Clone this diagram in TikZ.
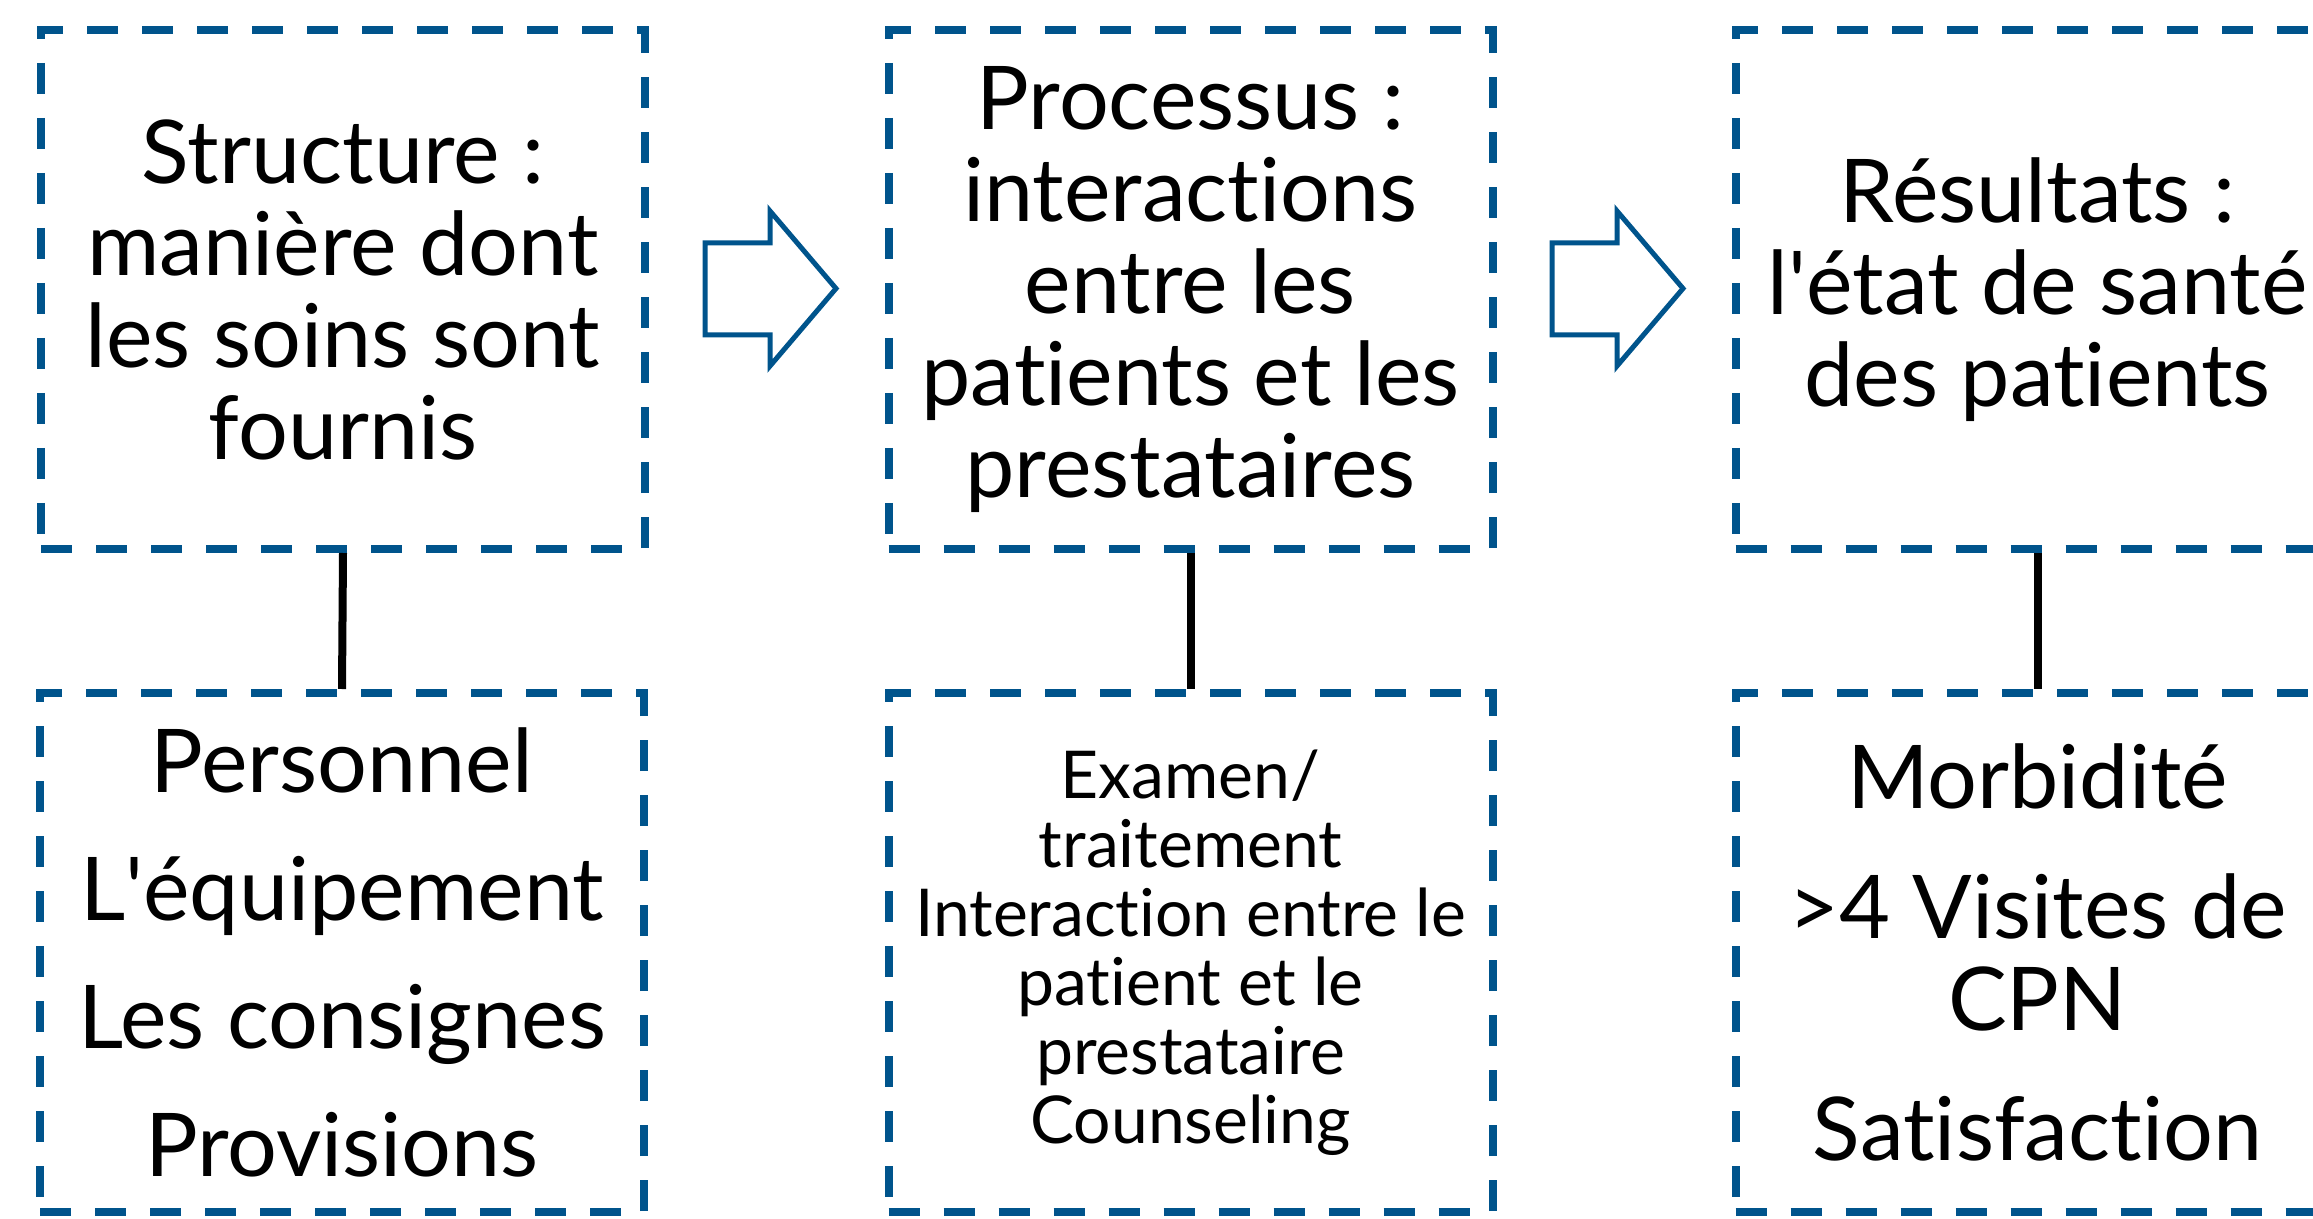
\documentclass[tikz,border=0pt]{standalone}
\usepackage{fontspec}
\setmainfont{Lato}[Ligatures={NoCommon,TeX}]
\definecolor{dblue}{RGB}{0,84,140}
\begin{document}
\begin{tikzpicture}[x=0.5pt,y=-0.5pt,
  box/.style={draw=dblue, line width=4pt, dash pattern=on 15.5pt off 12pt,
    minimum width=302pt, minimum height=259.5pt, align=center, inner sep=0pt,
    font=\fontsize{44}{46}\selectfont},
  smalltext/.style={font=\fontsize{33}{34.5}\selectfont},
  link/.style={draw=black, line width=4pt},
  blockarrow/.style={draw=dblue, line width=2.5pt, line join=miter}]
\useasboundingbox (0,0) rectangle (2313,1219);
% top row
\node[box] (t1) at (343,289.5) {Structure :\\ manière dont\\ les soins sont\\ fournis};
\node[box] (t2) at (1190.5,289.5) {Processus :\\ interactions\\ entre les\\ patients et les\\ prestataires};
\node[box] (t3) at (2037.5,289.5) {Résultats :\\ l\textquotesingle état de santé\\ des patients};
% bottom row
\node[box] (b1) at (342,952.5) {Personnel\\[18pt] L\textquotesingle équipement\\[18pt] Les consignes\\[18pt] Provisions};
\node[box, smalltext] (b2) at (1190.5,952.5) {Examen/\\ traitement\\ Interaction entre le\\ patient et le\\ prestataire\\ Counseling};
\node[box] (b3) at (2037.5,952.5) {Morbidité\\[19pt] >4 Visites de\\ CPN\\[19pt] Satisfaction};
% connectors
\draw[link] (t1.south) -- (b1.north);
\draw[link] (t2.south) -- (b2.north);
\draw[link] (t3.south) -- (b3.north);
% block arrows
\draw[blockarrow] (705,243) -- (770,243) -- (770,211) -- (836,288.5) -- (770,366) -- (770,335) -- (705,335) -- cycle;
\draw[blockarrow] (1552,243) -- (1617,243) -- (1617,211) -- (1683,288.5) -- (1617,366) -- (1617,335) -- (1552,335) -- cycle;
\end{tikzpicture}
\end{document}
